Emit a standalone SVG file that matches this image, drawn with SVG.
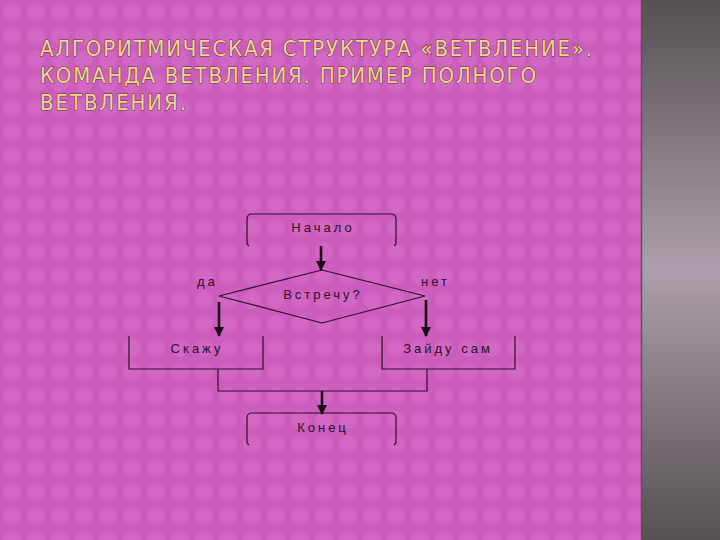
<svg xmlns="http://www.w3.org/2000/svg" width="720" height="540" viewBox="0 0 720 540">
<defs>
<pattern id="bg" width="24" height="24" patternUnits="userSpaceOnUse">
<rect width="24" height="24" fill="#cc5dbd"/>
<rect x="4" y="4" width="16" height="16" rx="5" fill="#d268c4" transform="rotate(45 12 12)"/>
</pattern>
<linearGradient id="side" x1="0" y1="0" x2="0" y2="1">
<stop offset="0" stop-color="#555052"/>
<stop offset="0.5" stop-color="#ad9fab"/>
<stop offset="1" stop-color="#555052"/>
</linearGradient>
<marker id="ah" viewBox="0 0 10 10" refX="9" refY="5" markerWidth="4" markerHeight="4" orient="auto" markerUnits="strokeWidth">
<path d="M0,0 L10,5 L0,10 z" fill="#1a0a1a"/>
</marker>
<style>
.title{font-family:"Liberation Sans Narrow","DejaVu Sans Condensed","Liberation Sans",sans-serif;font-size:22px;fill:#f1d596;stroke:#5a3526;stroke-width:0.9;paint-order:stroke;}
.lbl{font-family:"Liberation Sans","DejaVu Sans",sans-serif;font-size:13px;fill:#2a0f2a;letter-spacing:3px;}
.shape{fill:none;stroke:#2a0f2a;stroke-width:1.2;}
.arr{fill:none;stroke:#1a0a1a;stroke-width:2.6;marker-end:url(#ah);}
.line{fill:none;stroke:#2a0f2a;stroke-width:1.2;}
</style>
</defs>
<rect width="720" height="540" fill="url(#bg)"/>
<rect x="642" y="0" width="78" height="540" fill="url(#side)"/>
<line x1="641.5" y1="0" x2="641.5" y2="540" stroke="#6a4a60" stroke-width="1.5"/>

<g id="title">
<text class="title" x="40" y="56" textLength="552" lengthAdjust="spacing">АЛГОРИТМИЧЕСКАЯ СТРУКТУРА  «ВЕТВЛЕНИЕ».</text>
<text class="title" x="40" y="83" textLength="496" lengthAdjust="spacing">КОМАНДА ВЕТВЛЕНИЯ. ПРИМЕР  ПОЛНОГО</text>
<text class="title" x="40" y="110" textLength="146" lengthAdjust="spacing">ВЕТВЛЕНИЯ.</text>
</g>

<g id="connectors">
<line class="arr" x1="321" y1="246" x2="321" y2="270"/>
<line class="arr" x1="219" y1="302" x2="219" y2="336"/>
<line class="arr" x1="426" y1="300" x2="426" y2="336"/>
<polyline class="line" points="218,369 218,391 427,391 427,369"/>
<line class="arr" x1="322" y1="391" x2="322" y2="414"/>
</g>

<g id="start">
<path class="shape" d="M249,246 L247,244 L247,219 Q247,214 252,214 L391,214 Q396,214 396,219 L396,244 L394,246"/>
<text class="lbl" x="323" y="232" text-anchor="middle">Начало</text>
</g>

<g id="decision">
<polygon class="shape" points="322,270 425,296 322,323 219,296"/>
<text class="lbl" x="323" y="299" text-anchor="middle">Встречу?</text>
</g>

<g id="yes-label"><text class="lbl" x="197" y="286">да</text></g>
<g id="no-label"><text class="lbl" x="421" y="286">нет</text></g>

<g id="say">
<polyline class="shape" points="129,336 129,369 263,369 263,336"/>
<text class="lbl" x="197" y="353" text-anchor="middle">Скажу</text>
</g>

<g id="self">
<polyline class="shape" points="382,336 382,369 515,369 515,336"/>
<text class="lbl" x="448" y="353" text-anchor="middle">Зайду сам</text>
</g>

<g id="end">
<path class="shape" d="M249,445 L247,443 L247,418 Q247,413 252,413 L391,413 Q396,413 396,418 L396,443 L394,445"/>
<text class="lbl" x="323" y="432" text-anchor="middle">Конец</text>
</g>
</svg>
